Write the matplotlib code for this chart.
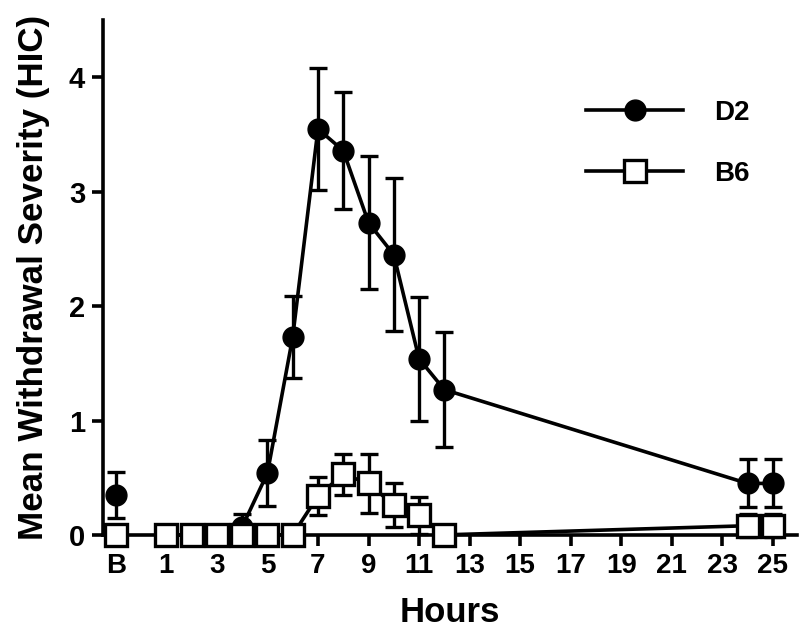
import matplotlib
matplotlib.use("Agg")
import matplotlib.pyplot as plt

# Data
x_labels = ["B", "1", "3", "5", "7", "9", "11", "13", "15", "17", "19", "21", "23", "25"]
x_label_pos = [-1, 1, 3, 5, 7, 9, 11, 13, 15, 17, 19, 21, 23, 25]

d2_base_x = [-1]
d2_base_y = [0.35]
d2_base_err = [0.20]
d2_x = [1, 2, 3, 4, 5, 6, 7, 8, 9, 10, 11, 12, 24, 25]
d2_y = [0, 0, 0, 0.07, 0.54, 1.73, 3.55, 3.36, 2.73, 2.45, 1.54, 1.27, 0.45, 0.45]
d2_err = [0, 0, 0, 0.11, 0.29, 0.36, 0.53, 0.51, 0.58, 0.67, 0.54, 0.50, 0.21, 0.21]

b6_base_x = [-1]
b6_base_y = [0.0]
b6_x = [1, 2, 3, 4, 5, 6, 7, 8, 9, 10, 11, 12, 24, 25]
b6_y = [0, 0, 0, 0, 0, 0, 0.34, 0.53, 0.45, 0.26, 0.17, 0, 0.08, 0.08]
b6_err = [0, 0, 0, 0, 0, 0, 0.17, 0.18, 0.26, 0.19, 0.16, 0, 0.10, 0.10]

fig = plt.figure(figsize=(8, 6.33), dpi=100)
ax = fig.add_axes([0.129, 0.155, 0.867, 0.813])

lw = 2.6
ekw = dict(ecolor="black", elinewidth=2.4, capsize=6.5, capthick=2.4)

# D2
ax.errorbar(d2_base_x, d2_base_y, yerr=d2_base_err, fmt="o", color="black",
            markersize=15, markerfacecolor="black", markeredgecolor="black",
            clip_on=False, zorder=3, **ekw)
d2c = ax.errorbar(d2_x, d2_y, yerr=d2_err, fmt="-o", color="black", linewidth=lw,
                  markersize=15, markerfacecolor="black", markeredgecolor="black",
                  clip_on=False, zorder=3, **ekw)

# B6
ax.errorbar(b6_base_x, b6_base_y, fmt="s", color="black",
            markersize=16, markerfacecolor="white", markeredgecolor="black",
            markeredgewidth=2.4, clip_on=False, zorder=4)
b6c = ax.errorbar(b6_x, b6_y, yerr=b6_err, fmt="-s", color="black", linewidth=lw,
                  markersize=16, markerfacecolor="white", markeredgecolor="black",
                  markeredgewidth=2.4, clip_on=False, zorder=4, **ekw)

ax.set_xlim(-1.5, 25.95)
ax.set_ylim(0, 4.5)
ax.set_xticks(x_label_pos)
ax.set_xticklabels(x_labels, fontsize=20, fontweight="bold", family="Liberation Sans")
ax.set_yticks([0, 1, 2, 3, 4])
ax.set_yticklabels(["0", "1", "2", "3", "4"], fontsize=21, fontweight="bold",
                   family="Liberation Sans")

for s in ["top", "right"]:
    ax.spines[s].set_visible(False)
for s in ["left", "bottom"]:
    ax.spines[s].set_linewidth(2.6)
ax.tick_params(axis="both", direction="out", length=8, width=2.6, pad=5)

ax.set_xlabel("Hours", fontsize=25, fontweight="bold", family="Liberation Sans", labelpad=12)
ax.set_ylabel("Mean Withdrawal Severity (HIC)", fontsize=25.2, fontweight="bold",
              family="Liberation Sans")
ax.yaxis.set_label_coords(-0.077, 0.5)

ax.legend([d2c.lines[0], b6c.lines[0]], ["D2", "B6"],
          loc="upper left", bbox_to_anchor=(0.676, 0.872), frameon=False,
          borderpad=0, handlelength=3.5, labelspacing=1.25, handletextpad=1.1,
          prop=dict(family="Liberation Sans", weight="bold", size=20))

fig.savefig("out.png", dpi=100)
